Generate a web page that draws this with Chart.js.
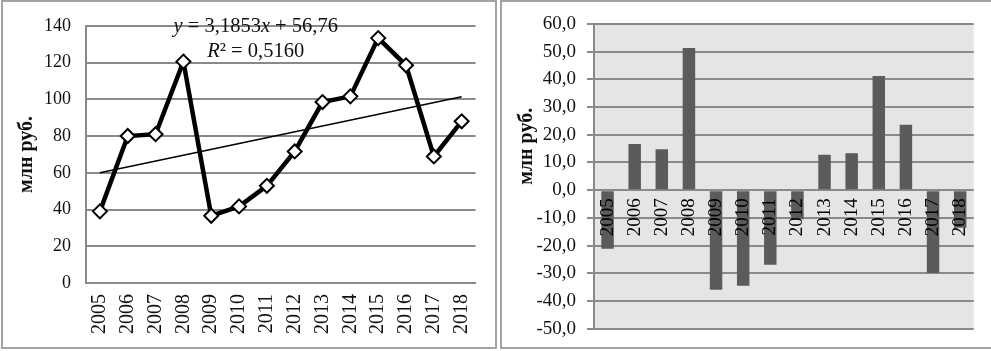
<!DOCTYPE html>
<html>
<head>
<meta charset="utf-8">
<script src="https://cdn.jsdelivr.net/npm/chart.js@4.4.1/dist/chart.umd.min.js"></script>
<style>
html,body{margin:0;padding:0;background:#fff;}
body{width:991px;height:351px;position:relative;overflow:hidden;}
.panel{position:absolute;box-sizing:border-box;border:2px solid #a3a3a3;}
#p1{left:1px;top:0;width:496px;height:349px;}
#p2{left:500px;top:0;width:500px;height:349px;}
.wrap{position:absolute;top:0;}
</style>
</head>
<body>
<div class="panel" id="p1"></div>
<div class="panel" id="p2"></div>
<div class="wrap" style="left:0;width:497px;height:351px"><canvas id="c1" width="497" height="351"></canvas></div>
<div class="wrap" style="left:500px;width:491px;height:351px"><canvas id="c2" width="491" height="351"></canvas></div>
<script>
// ---------- data ----------
const years = ['2005','2006','2007','2008','2009','2010','2011','2012','2013','2014','2015','2016','2017','2018'];
const revenue = [39.0, 80.0, 81.0, 120.5, 36.6, 41.7, 52.9, 71.6, 98.5, 101.6, 133.3, 118.5, 68.9, 88.0];
const trendLine = [60.0, null, null, null, null, null, null, null, null, null, null, null, null, 101.4];
const deviation = [-21.2, 16.7, 14.8, 51.3, -36.0, -34.5, -26.9, -10.5, 12.8, 13.3, 41.2, 23.6, -29.9, -13.6];
const leftTickRange = [0, 140, 20];
const rightTickRange = [-50, 60, 10];
const yTitle = 'млн руб.';
const eqLine1 = [['y', true], [' = 3,1853', false], ['x', true], [' + 56,76', false]];
const eqLine2 = [['R', true], ['² = 0,5160', false]];

const SERIF = '"Liberation Serif", "Times New Roman", serif';
const GRID = '#8a8a8a';
const TXT = '#111';

// ---------- helpers ----------
function drawRuns(ctx, runs, cx, cy, size) {
  ctx.save();
  ctx.textBaseline = 'middle';
  ctx.textAlign = 'left';
  ctx.fillStyle = TXT;
  let total = 0;
  const widths = runs.map(([t, it]) => {
    ctx.font = (it ? 'italic ' : '') + size + 'px ' + SERIF;
    const w = ctx.measureText(t).width;
    total += w;
    return w;
  });
  let x = cx - total / 2;
  runs.forEach(([t, it], i) => {
    ctx.font = (it ? 'italic ' : '') + size + 'px ' + SERIF;
    ctx.fillText(t, x, cy);
    x += widths[i];
  });
  ctx.restore();
}

const equationPlugin = {
  id: 'equation',
  afterDatasetsDraw(chart) {
    const {ctx, scales} = chart;
    const cx = scales.x.getPixelForValue(5.6);
    drawRuns(ctx, eqLine1, cx, scales.y.getPixelForValue(139.5), 20.5);
    drawRuns(ctx, eqLine2, cx, scales.y.getPixelForValue(126), 20.5);
  }
};

const plotBgPlugin = {
  id: 'plotBg',
  beforeDraw(chart) {
    const {ctx, chartArea: a} = chart;
    ctx.save();
    ctx.fillStyle = '#e5e5e5';
    ctx.fillRect(a.left, a.top, a.right - a.left, a.bottom - a.top);
    ctx.restore();
  }
};

// ---------- left chart: line with trend ----------
new Chart(document.getElementById('c1'), {
  type: 'line',
  data: {
    labels: years,
    datasets: [
      {
        data: revenue,
        borderColor: '#000',
        borderWidth: 4.5,
        tension: 0,
        pointStyle: 'rectRot',
        pointRadius: 7,
        pointBackgroundColor: '#fff',
        pointBorderColor: '#000',
        pointBorderWidth: 2,
        order: 1
      },
      {
        data: trendLine,
        borderColor: '#000',
        borderWidth: 1.5,
        pointRadius: 0,
        spanGaps: true,
        tension: 0,
        order: 2
      }
    ]
  },
  options: {
    responsive: false,
    animation: false,
    events: [],
    layout: {padding: {top: 24, right: 6, left: 0, bottom: 0}},
    plugins: {legend: {display: false}, tooltip: {enabled: false}},
    scales: {
      x: {
        offset: true,
        grid: {display: false, drawTicks: false},
        border: {display: true, color: GRID, width: 2},
        ticks: {
          autoSkip: false, minRotation: 90, maxRotation: 90, padding: 11,
          color: TXT, font: {family: SERIF, size: 20}
        },
        afterFit(s) { s.height = 68; }
      },
      y: {
        min: leftTickRange[0], max: leftTickRange[1],
        grid: {color: GRID, lineWidth: 2, drawTicks: false},
        border: {display: true, color: GRID, width: 2},
        ticks: {stepSize: leftTickRange[2], padding: 15, color: TXT, font: {family: SERIF, size: 18}},
        title: {display: true, text: yTitle, color: TXT, padding: {top: 15, bottom: 0},
                font: {family: SERIF, size: 20, weight: 'bold'}},
        afterFit(s) { s.width = 86; }
      }
    }
  },
  plugins: [equationPlugin]
});

// ---------- right chart: deviations ----------
new Chart(document.getElementById('c2'), {
  type: 'bar',
  data: {
    labels: years,
    datasets: [{
      data: deviation,
      backgroundColor: '#5b5b5b',
      borderWidth: 0,
      categoryPercentage: 1,
      barPercentage: 0.46
    }]
  },
  options: {
    responsive: false,
    animation: false,
    events: [],
    layout: {padding: {top: 24, right: 1, left: 0, bottom: 21}},
    plugins: {legend: {display: false}, tooltip: {enabled: false}},
    scales: {
      x: {
        position: {y: 0},
        grid: {display: false, drawTicks: false},
        border: {display: false},
        ticks: {
          z: 1,
          autoSkip: false, minRotation: 90, maxRotation: 90, padding: 8,
          color: '#000', font: {family: SERIF, size: 19}
        },
        afterFit(s) { s.height = 0; }
      },
      y: {
        min: rightTickRange[0], max: rightTickRange[1],
        grid: {color: GRID, lineWidth: 2, tickLength: 7, tickColor: GRID},
        border: {display: true, color: GRID, width: 2},
        ticks: {
          stepSize: rightTickRange[2], padding: 11, color: TXT,
          font: {family: SERIF, size: 19},
          callback: v => v.toFixed(1).replace('.', ',')
        },
        title: {display: true, text: '\u2003\u2003\u2003' + yTitle, color: TXT, padding: {top: 15, bottom: 0},
                font: {family: SERIF, size: 20, weight: 'bold'}},
        afterFit(s) { s.width = 94; }
      }
    }
  },
  plugins: [plotBgPlugin]
});
</script>
</body>
</html>
